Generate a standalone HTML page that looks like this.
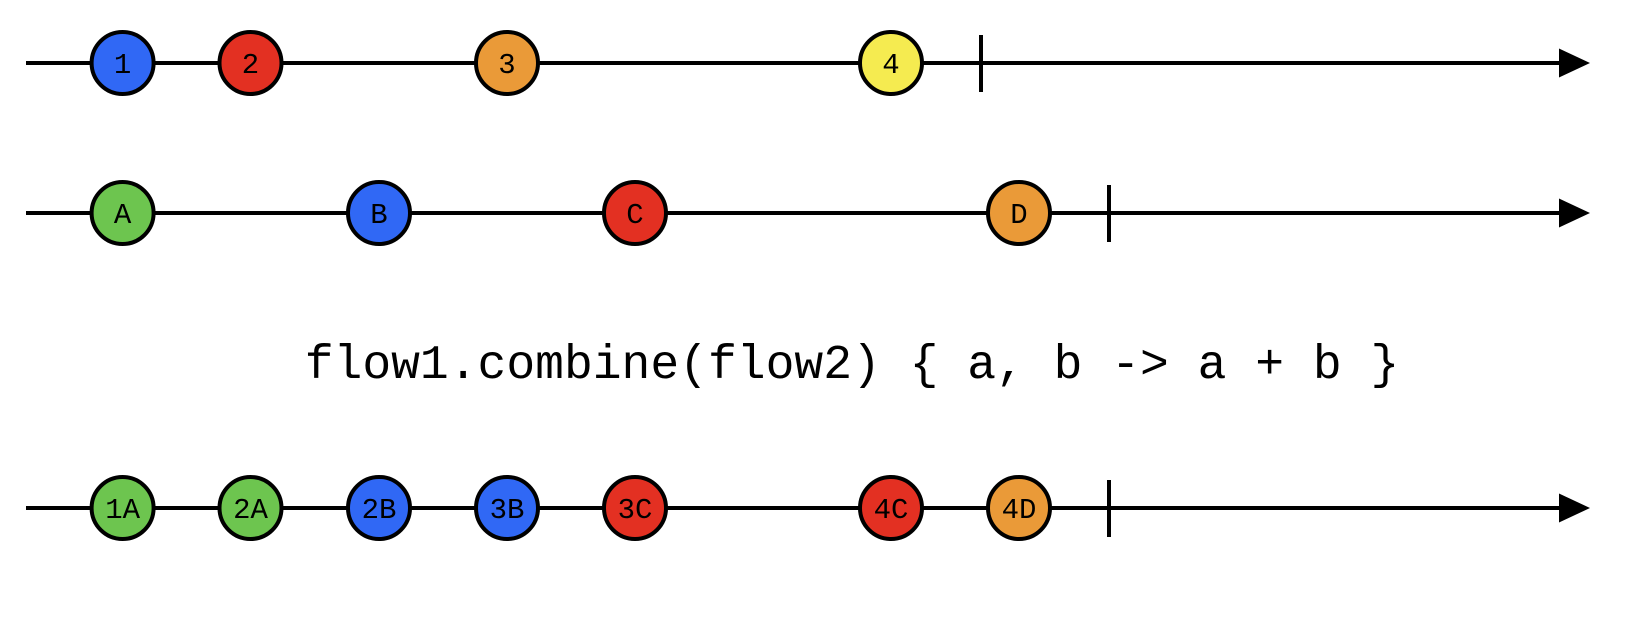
<!DOCTYPE html>
<html><head><meta charset="utf-8"><style>
html,body{margin:0;padding:0;background:#fff;}
svg{display:block}
text{font-family:"Liberation Mono","DejaVu Sans Mono",monospace;}
</style></head><body>
<svg width="1642" height="626" viewBox="0 0 1642 626" xmlns="http://www.w3.org/2000/svg">
<g stroke="#000" stroke-width="4">
<line x1="26" y1="63" x2="1562" y2="63"/>
<line x1="981" y1="35" x2="981" y2="92"/>
<line x1="26" y1="213" x2="1562" y2="213"/>
<line x1="1109" y1="185" x2="1109" y2="242"/>
<line x1="26" y1="508" x2="1562" y2="508"/>
<line x1="1109" y1="480" x2="1109" y2="537"/>
</g>
<g fill="#000">
<polygon points="1559,48.5 1590,63 1559,77.5"/>
<polygon points="1559,198.5 1590,213 1559,227.5"/>
<polygon points="1559,493.5 1590,508 1559,522.5"/>
</g>
<g stroke="#000" stroke-width="4">
<circle cx="122.6" cy="63" r="31" fill="#3068F5"/>
<circle cx="250.5" cy="63" r="31" fill="#E33022"/>
<circle cx="507" cy="63" r="31" fill="#EA9A38"/>
<circle cx="891" cy="63" r="31" fill="#F5EB50"/>
<circle cx="122.6" cy="213" r="31" fill="#6DC54F"/>
<circle cx="379" cy="213" r="31" fill="#3068F5"/>
<circle cx="635" cy="213" r="31" fill="#E33022"/>
<circle cx="1019" cy="213" r="31" fill="#EA9A38"/>
<circle cx="122.6" cy="508" r="31" fill="#6DC54F"/>
<circle cx="250.5" cy="508" r="31" fill="#6DC54F"/>
<circle cx="379" cy="508" r="31" fill="#3068F5"/>
<circle cx="507" cy="508" r="31" fill="#3068F5"/>
<circle cx="635" cy="508" r="31" fill="#E33022"/>
<circle cx="891" cy="508" r="31" fill="#E33022"/>
<circle cx="1019" cy="508" r="31" fill="#EA9A38"/>
</g>
<g font-size="29" text-anchor="middle" fill="#000">
<text x="122.6" y="73">1</text>
<text x="250.5" y="73">2</text>
<text x="507" y="73">3</text>
<text x="891" y="73">4</text>
<text x="122.6" y="223">A</text>
<text x="379" y="223">B</text>
<text x="635" y="223">C</text>
<text x="1019" y="223">D</text>
<text x="122.6" y="518">1A</text>
<text x="250.5" y="518">2A</text>
<text x="379" y="518">2B</text>
<text x="507" y="518">3B</text>
<text x="635" y="518">3C</text>
<text x="891" y="518">4C</text>
<text x="1019" y="518">4D</text>
</g>
<text x="852" y="378" font-size="48" text-anchor="middle" fill="#000" xml:space="preserve">flow1.combine(flow2) { a, b -&gt; a + b }</text>
</svg>
</body></html>
